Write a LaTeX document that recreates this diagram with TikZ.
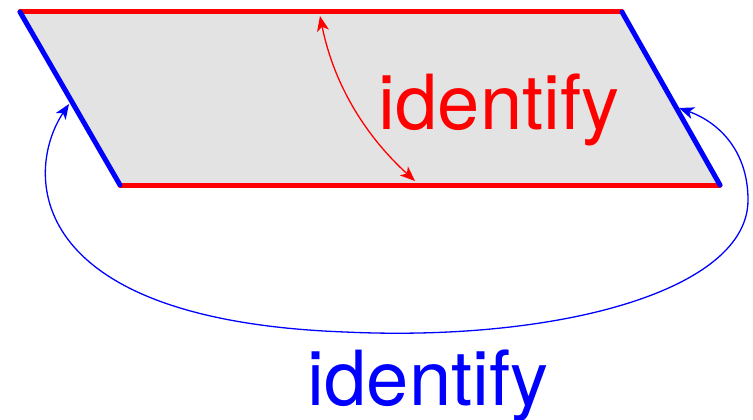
\documentclass[tikz,border=0pt]{standalone}
\usepackage{fontspec}
\setmainfont{TeX Gyre Heros}
\usetikzlibrary{arrows.meta}
\definecolor{sheet}{RGB}{227,227,227}
\tikzset{
  redge/.style={red, line width=5pt, line cap=round},
  bedge/.style={blue, line width=5pt, line cap=round},
  glue/.style={line width=1.3pt, {Stealth[length=15pt,width=12pt,inset=4pt]}-{Stealth[length=15pt,width=12pt,inset=4pt]}},
  lbl/.style={font=\fontsize{76}{84}\selectfont, inner sep=0pt, anchor=base}
}
\begin{document}
\begin{tikzpicture}[x=1pt, y=-1pt]
  \useasboundingbox (0,0) rectangle (753,420);
  % corners of the sheet
  \coordinate (tl) at (20,12);
  \coordinate (tr) at (622,12);
  \coordinate (br) at (720,185);
  \coordinate (bl) at (120,185);
  \fill[sheet] (tl) -- (tr) -- (br) -- (bl) -- cycle;
  \draw[redge] (tl) -- (tr);
  \draw[redge] (bl) -- (br);
  \draw[bedge] (tl) -- (bl);
  \draw[bedge] (tr) -- (br);
  % points where the gluing arrows land
  \coordinate (rt) at (320,16);
  \coordinate (rb) at (415,181);
  \coordinate (bL) at (69,104);
  \coordinate (bR) at (679,108);
  \coordinate (bottom) at (345,332);
  \coordinate (side) at (748,200);
  \draw[glue, red] (rt) .. controls (335,90) and (370,140) .. (rb);
  \draw[glue, blue] (bL) .. controls (25,170) and (20,320) .. (bottom)
                          .. controls (560,342) and (748,290) .. (side)
                          .. controls (748,150) and (718,122) .. (bR);
  \node[lbl, red] (t1) at (499,129) {identify};
  \node[lbl, blue] (t2) at (428,405) {identify};
\end{tikzpicture}
\end{document}
